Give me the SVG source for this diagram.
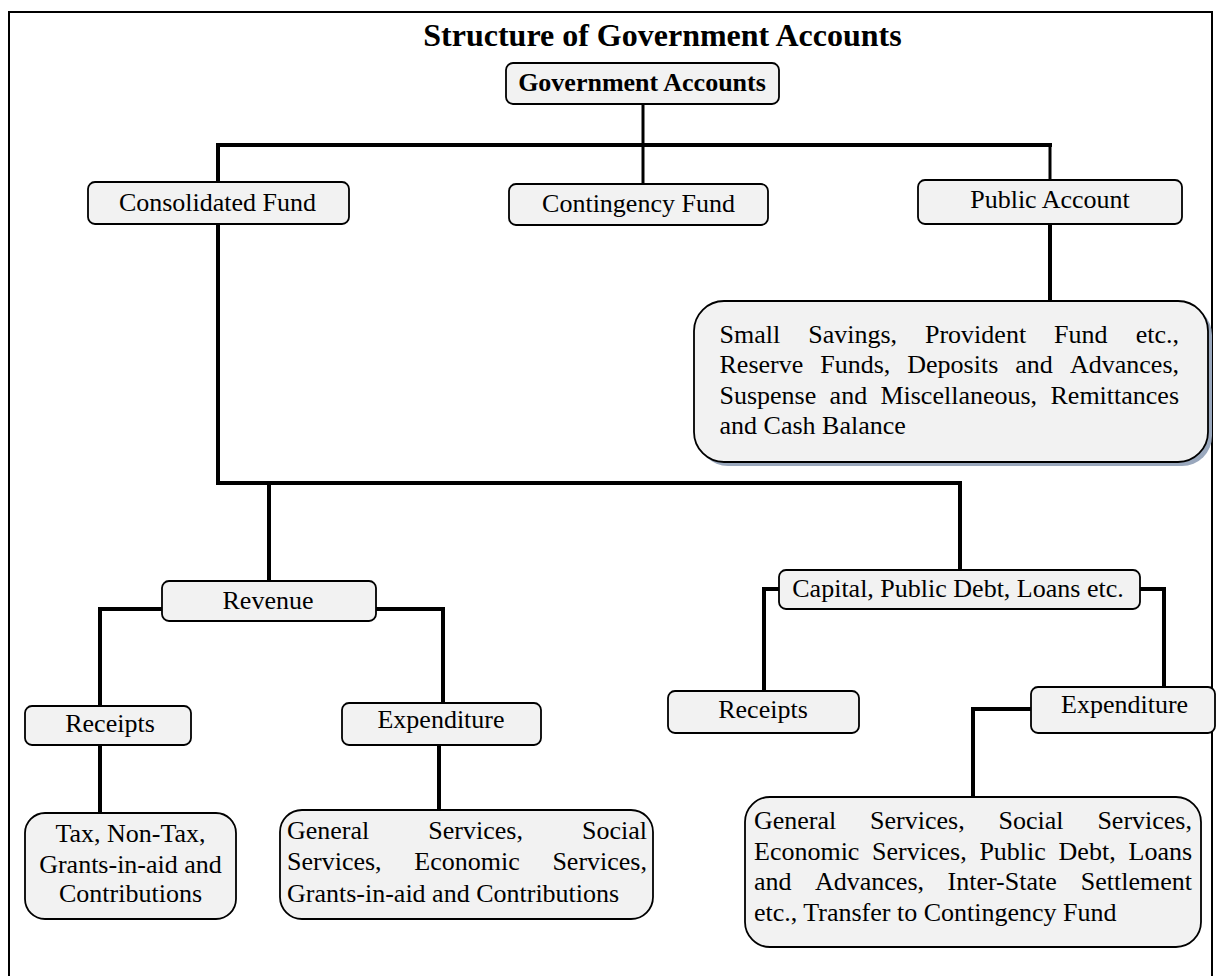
<svg xmlns="http://www.w3.org/2000/svg" width="1218" height="976" viewBox="0 0 1218 976">
<style>
.box{fill:#f2f2f2;stroke:#000;stroke-width:1.8}
.t{font-family:"Liberation Serif","Times New Roman",serif;font-size:26px;fill:#000}
.c{text-anchor:middle}
.e{text-anchor:end}
.b{font-weight:bold}
.conn{fill:none;stroke:#000;stroke-width:4;stroke-linejoin:miter;stroke-linecap:square}
</style>
<rect width="1218" height="976" fill="#fff"/>
<rect x="9" y="12" width="1203" height="990" fill="none" stroke="#000" stroke-width="2"/>
<text x="662.5" y="46" class="t c b" style="font-size:32px">Structure of Government Accounts</text>

<g id="connectors">
<path class="conn" d="M643 104V145" style="stroke-width:3"/>
<path class="conn" d="M218 145H1050"/>
<path class="conn" d="M218 145V182"/>
<path class="conn" d="M643 145V184" style="stroke-width:3"/>
<path class="conn" d="M1050 145V180" style="stroke-width:3"/>
<path class="conn" d="M1050 224V301"/>
<path class="conn" d="M218 224V483H960V570"/>
<path class="conn" d="M269 483V581"/>
<path class="conn" d="M162 609H100V706"/>
<path class="conn" d="M376 609H443V703"/>
<path class="conn" d="M100 745V813"/>
<path class="conn" d="M439 745V810"/>
<path class="conn" d="M779 589H764V691"/>
<path class="conn" d="M1140 589H1164V687"/>
<path class="conn" d="M1031 709H973V797"/>
</g>

<g id="government-accounts">
<rect class="box" x="506" y="63" width="273" height="41" rx="7"/>
<text x="642" y="91" class="t c b">Government Accounts</text>
</g>
<g id="consolidated-fund">
<rect class="box" x="88" y="182" width="261" height="42" rx="7"/>
<text x="217.5" y="211" class="t c">Consolidated Fund</text>
</g>
<g id="contingency-fund">
<rect class="box" x="509" y="184" width="259" height="41" rx="7"/>
<text x="638.5" y="212" class="t c">Contingency Fund</text>
</g>
<g id="public-account">
<rect class="box" x="918" y="180" width="264" height="44" rx="7"/>
<text x="1050" y="208" class="t c">Public Account</text>
</g>
<g id="public-account-items">
<rect x="698" y="305" width="514" height="161" rx="30" fill="#9aa8bd"/>
<rect class="box" x="694" y="301" width="514" height="161" rx="30"/>
<text class="t" y="343"><tspan x="719.5">Small</tspan><tspan x="808.2">Savings,</tspan><tspan x="925">Provident</tspan><tspan x="1054.1">Fund</tspan><tspan x="1135.7">etc.,</tspan></text>
<text class="t" y="373"><tspan x="719.5">Reserve</tspan><tspan x="820.2">Funds,</tspan><tspan x="907.3">Deposits</tspan><tspan x="1015.3">and</tspan><tspan x="1070">Advances,</tspan></text>
<text class="t" y="404"><tspan x="719.5">Suspense</tspan><tspan x="829.6">and</tspan><tspan x="880.4">Miscellaneous,</tspan><tspan x="1050.5">Remittances</tspan></text>
<text class="t" y="434" x="719.5">and Cash Balance</text>
</g>
<g id="revenue">
<rect class="box" x="162" y="581" width="214" height="40" rx="7"/>
<text x="268" y="609" class="t c">Revenue</text>
</g>
<g id="capital">
<rect class="box" x="779" y="570" width="361" height="39" rx="7"/>
<text x="958" y="597" class="t c">Capital, Public Debt, Loans etc.</text>
</g>
<g id="revenue-receipts">
<rect class="box" x="25" y="706" width="166" height="39" rx="7"/>
<text x="110" y="732" class="t c">Receipts</text>
</g>
<g id="revenue-expenditure">
<rect class="box" x="342" y="703" width="199" height="42" rx="7"/>
<text x="441" y="728" class="t c">Expenditure</text>
</g>
<g id="capital-receipts">
<rect class="box" x="668" y="691" width="191" height="42" rx="7"/>
<text x="763" y="718" class="t c">Receipts</text>
</g>
<g id="capital-expenditure">
<rect class="box" x="1031" y="687" width="184" height="46" rx="7"/>
<text x="1124.6" y="713" class="t c">Expenditure</text>
</g>
<g id="revenue-receipts-items">
<rect class="box" x="25" y="813" width="211" height="106" rx="20"/>
<text x="130.5" y="842" class="t c">Tax, Non-Tax,</text>
<text x="130.5" y="873" class="t c">Grants-in-aid and</text>
<text x="130.5" y="902" class="t c">Contributions</text>
</g>
<g id="revenue-expenditure-items">
<rect class="box" x="280" y="810" width="373" height="109" rx="22"/>
<text class="t" y="839"><tspan x="287">General</tspan><tspan x="428.3">Services,</tspan><tspan x="582">Social</tspan></text>
<text class="t" y="870"><tspan x="287">Services,</tspan><tspan x="414.3">Economic</tspan><tspan x="552.4">Services,</tspan></text>
<text class="t" y="902" x="287">Grants-in-aid and Contributions</text>
</g>
<g id="capital-expenditure-items">
<rect class="box" x="745" y="797" width="456" height="150" rx="25"/>
<text class="t" y="829"><tspan x="754">General</tspan><tspan x="870.1">Services,</tspan><tspan x="998.5">Social</tspan><tspan x="1097.4">Services,</tspan></text>
<text class="t" y="860"><tspan x="754">Economic</tspan><tspan x="872.1">Services,</tspan><tspan x="979.4">Public</tspan><tspan x="1058.6">Debt,</tspan><tspan x="1128.5">Loans</tspan></text>
<text class="t" y="890"><tspan x="754">and</tspan><tspan x="815">Advances,</tspan><tspan x="947.5">Inter-State</tspan><tspan x="1080.8">Settlement</tspan></text>
<text class="t" y="921" x="754">etc., Transfer to Contingency Fund</text>
</g>
</svg>
